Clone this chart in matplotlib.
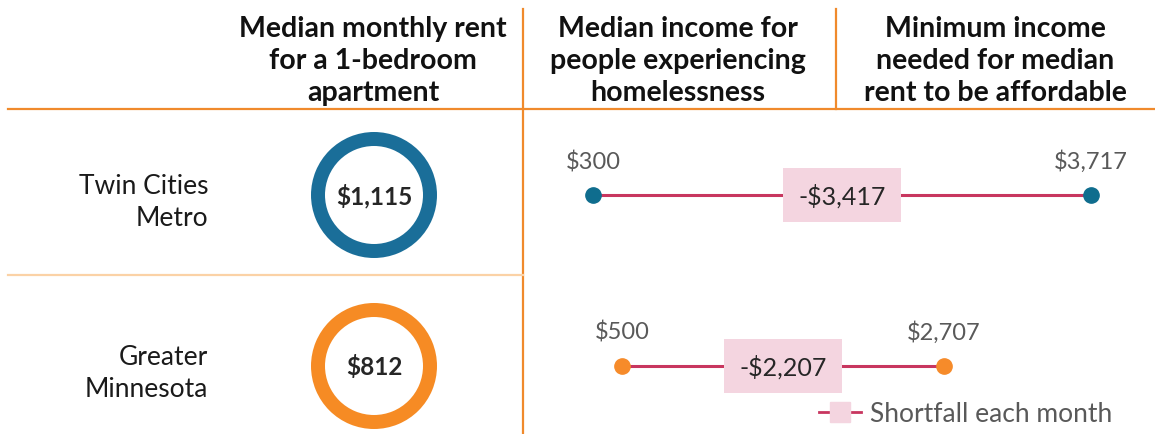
import matplotlib.pyplot as plt
from matplotlib.lines import Line2D

# data
regions = ["Twin Cities\nMetro", "Greater\nMinnesota"]
median_rent = [1115, 812]
income_homeless = [300, 500]
income_needed = [3717, 2707]
rent_labels = ["$1,115", "$812"]
headers = ["Median monthly rent\nfor a 1-bedroom\napartment",
           "Median income for\npeople experiencing\nhomelessness",
           "Minimum income\nneeded for median\nrent to be affordable"]

ring_colors = ["#1A6E99", "#F68B24"]
dot_colors = ["#0F6D8E", "#F68B2A"]
line_color = "#C8365F"
box_color = "#F4D5E0"
orange = "#F08A2C"
light_orange = "#FBD2A6"

W, H = 1155, 435
plt.rcParams['font.family'] = ['Lato', 'DejaVu Sans']
fig = plt.figure(figsize=(W / 100, H / 100), dpi=100)

def fx(px):
    return px / W

def fy(py):
    return 1 - py / H

# table lines
fig.add_artist(Line2D([fx(523), fx(523)], [fy(10), fy(435)], color=orange, lw=1.6))
fig.add_artist(Line2D([fx(836), fx(836)], [fy(10), fy(110)], color=orange, lw=1.6))
fig.add_artist(Line2D([fx(8), fx(1155)], [fy(110), fy(110)], color=orange, lw=1.6))
fig.add_artist(Line2D([fx(8), fx(523)], [fy(276), fy(276)], color=light_orange, lw=1.6))

# headers
for hx, h in zip([373, 678, 995], headers):
    fig.text(fx(hx), fy(61), h, ha='center', va='center', fontsize=20.5,
             fontweight='bold', color='#111111', linespacing=1.3)

row_y = [196, 367]

# row labels
for ry, lab in zip(row_y, regions):
    fig.text(fx(208), fy(ry + 7), lab, ha='right', va='center', fontsize=19,
             color='#1a1a1a', linespacing=1.35)

# donuts
R = 63
for ry, v, c, t in zip(row_y, median_rent, ring_colors, rent_labels):
    dax = fig.add_axes([fx(374 - R), fy(ry + R), 2 * R / W, 2 * R / H])
    dax.pie([v], colors=[c], radius=1, startangle=90,
            wedgeprops=dict(width=14 / R, edgecolor='none'))
    dax.set_xlim(-1, 1)
    dax.set_ylim(-1, 1)
    dax.text(0, 0, t, ha='center', va='center', fontsize=17.5,
             fontweight='bold', color='#262626')

# dumbbell axes
k = 498 / 3417
x0 = 593 - 300 * k
ax = fig.add_axes([fx(523), 0, (W - 523) / W, 1])
ax.set_xlim((523 - x0) / k, (W - x0) / k)
ax.set_ylim((H - row_y[0]) / (row_y[1] - row_y[0]), -row_y[0] / (row_y[1] - row_y[0]))
ax.axis('off')

for i in range(len(regions)):
    lo, hi = income_homeless[i], income_needed[i]
    ax.plot([lo, hi], [i, i], color=line_color, lw=2.2, zorder=1)
    ax.plot([lo, hi], [i, i], 'o', color=dot_colors[i], markersize=11, zorder=3)
    for v in (lo, hi):
        ax.annotate(f"${v:,}", (v, i), xytext=(0, 34), textcoords='offset pixels',
                    ha='center', va='center', fontsize=17, color='#595959')
    ax.text((lo + hi) / 2, i, f"-${hi - lo:,}", ha='center', va='center',
            fontsize=18, color='#262626', zorder=4,
            bbox=dict(boxstyle='square,pad=0.6', fc=box_color, ec='none'))

handle = Line2D([], [], color=line_color, lw=2, marker='s', markersize=15,
                markerfacecolor=box_color, markeredgecolor=box_color)
fig.legend(handles=[handle], labels=["Shortfall each month"], loc='center left',
           bbox_to_anchor=(fx(819), fy(415)), frameon=False, fontsize=19,
           handlelength=1.6, handletextpad=0.35, borderpad=0, borderaxespad=0,
           labelcolor='#595959')

fig.savefig('out.png', dpi=100)
